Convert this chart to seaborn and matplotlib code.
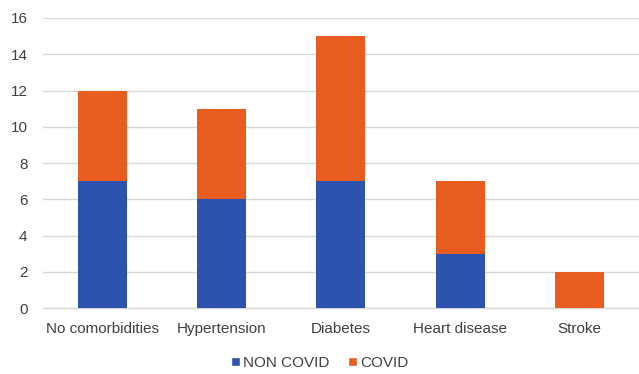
import matplotlib
matplotlib.use("Agg")
import matplotlib.pyplot as plt
import seaborn as sns
import pandas as pd
from matplotlib.patches import Patch

categories = ["No comorbidities", "Hypertension", "Diabetes", "Heart disease", "Stroke"]
non_covid = [7, 6, 7, 3, 0]
covid = [5, 5, 8, 4, 2]
y_ticks = [0, 2, 4, 6, 8, 10, 12, 14, 16]

BLUE = "#2E53AF"
ORANGE = "#E85D1F"
TEXT = "#404040"
GRID = "#D9D9D9"

sns.set_theme(style="white")
plt.rcParams["font.family"] = ["Liberation Sans", "DejaVu Sans"]

df = pd.DataFrame({
    "category": categories,
    "non_covid": non_covid,
    "covid": covid,
})
df["total"] = df["non_covid"] + df["covid"]

fig = plt.figure(figsize=(6.39, 3.74), dpi=100)
ax = fig.add_axes([0.067, 0.176, 0.933, 0.776])

# Stacked bars: total height in orange, the NON COVID share drawn over it in blue
sns.barplot(data=df, x="category", y="total", color=ORANGE, width=0.41,
            saturation=1, linewidth=0, ax=ax, zorder=3)
sns.barplot(data=df, x="category", y="non_covid", color=BLUE, width=0.41,
            saturation=1, linewidth=0, ax=ax, zorder=3)

ax.set_ylim(0, 16)
ax.set_yticks(y_ticks)
ax.set_yticklabels([str(t) for t in y_ticks])
ax.set_xlim(-0.5, len(categories) - 0.5)
ax.set_xlabel("")
ax.set_ylabel("")
ax.yaxis.grid(True, color=GRID, linewidth=1, zorder=0)
ax.set_axisbelow(True)
for side in ["top", "left", "right"]:
    ax.spines[side].set_visible(False)
ax.spines["bottom"].set_color(GRID)
ax.spines["bottom"].set_linewidth(1)
ax.tick_params(axis="both", length=0, labelsize=11, colors=TEXT)
ax.tick_params(axis="x", pad=10)
ax.tick_params(axis="y", pad=11)

handles = [Patch(facecolor=BLUE, label="NON COVID"),
           Patch(facecolor=ORANGE, label="COVID")]
fig.legend(handles=handles, loc="center", bbox_to_anchor=(0.5, 0.03), ncol=2,
           frameon=False, fontsize=11, handlelength=0.6, handleheight=0.6,
           handletextpad=0.2, columnspacing=1.2, labelcolor=TEXT)

fig.savefig("out.png", dpi=100)
